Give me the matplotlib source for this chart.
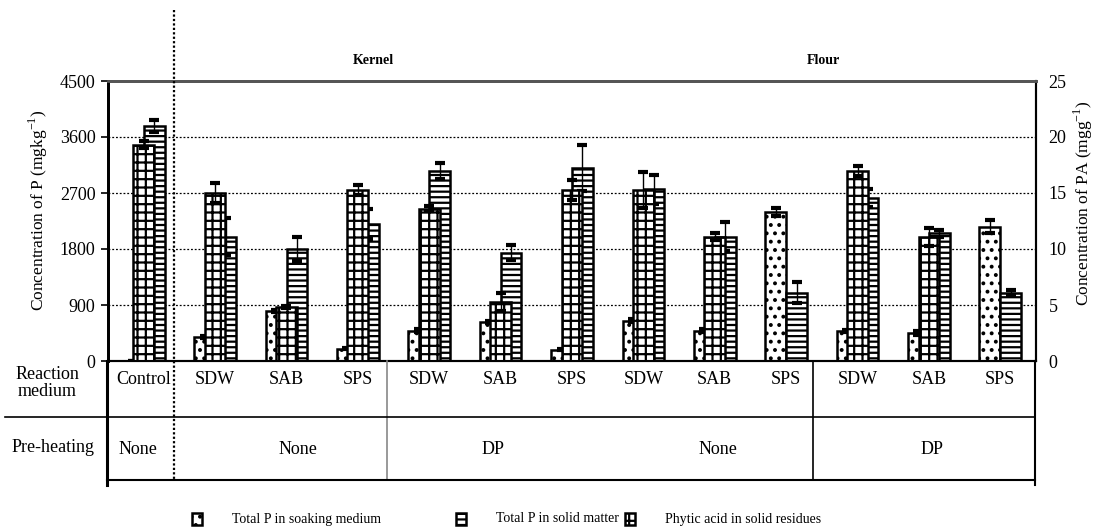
import numpy as np
import matplotlib
matplotlib.use("Agg")
import matplotlib.pyplot as plt
from matplotlib.lines import Line2D
from matplotlib.patches import Rectangle

plt.rcParams['font.family'] = ['Liberation Serif', 'DejaVu Serif']
plt.rcParams['mathtext.fontset'] = 'custom'
plt.rcParams['mathtext.rm'] = 'Liberation Serif'
plt.rcParams['hatch.linewidth'] = 1.6

# treatments, left to right
media = ['Control', 'SDW', 'SAB', 'SPS', 'SDW', 'SAB', 'SPS',
         'SDW', 'SAB', 'SPS', 'SDW', 'SAB', 'SPS']
preheat = ['None', 'None', 'DP', 'None', 'DP']
preheat_px = [138, 298, 493, 718, 932]

# total P in soaking medium (mg/kg)
soak_p = [0, 385, 800, 200, 490, 630, 180, 650, 490, 2400, 480, 450, 2160]
soak_err = [0, 20, 20, 10, 20, 20, 10, 30, 20, 65, 20, 30, 100]
# total P in solid matter (mg/kg)
solid_p = [3780, 2000, 1800, 2200, 3050, 1740, 3100, 2760, 2000, 1100, 2620, 2050, 1100]
solid_err = [100, 300, 200, 240, 130, 120, 370, 230, 240, 170, 140, 50, 40]
# phytic acid in solid residues (mg/g)
phytic = [19.3, 15.0, 4.8, 15.3, 13.6, 5.3, 15.3, 15.3, 11.1, 0, 17.0, 11.1, 0]
phytic_err = [0.3, 0.9, 0.1, 0.45, 0.2, 0.8, 0.9, 1.6, 0.3, 0, 0.45, 0.8, 0]

W, H = 1100, 530
fig = plt.figure(figsize=(11, 5.3), dpi=100)


def fx(x):
    return x / W


def fy(y):
    return 1 - y / H


L, R, T, B = 108, 1036, 81, 361
ax = fig.add_axes([fx(L), fy(B), fx(R - L), (B - T) / H])
ax2 = ax.twinx()

x = np.arange(len(media))
bw = 0.29
off = 0.147
bar_kw = dict(width=bw, facecolor='white', edgecolor='black', linewidth=1.8)
err_kw = dict(fmt='none', ecolor='black', elinewidth=1, capsize=3.5, capthick=3, zorder=5)

ax.bar(x - off, soak_p, hatch='..', zorder=2, **bar_kw)
ax.bar(x + off, solid_p, hatch='---', zorder=2, **bar_kw)
ax.errorbar(x - off, soak_p, yerr=soak_err, **err_kw)
ax.errorbar(x + off, solid_p, yerr=solid_err, **err_kw)

ph = np.array(phytic)
shown = ph > 0
ax2.bar(x[shown], ph[shown], hatch='++', zorder=2, **bar_kw)
ax2.errorbar(x[shown], ph[shown], yerr=np.array(phytic_err)[shown], **err_kw)

ax.set_xlim(-0.5, len(media) - 0.5)
ax.set_ylim(0, 4500)
ax2.set_ylim(0, 25)
ax.set_yticks(np.arange(0, 4501, 900))
ax2.set_yticks(np.arange(0, 26, 5))
ax.set_xticks([])
ax.set_axisbelow(True)
ax.grid(axis='y', linestyle=(0, (1.5, 1.5)), color='black', linewidth=0.9)

ax.tick_params(axis='y', labelsize=13, length=5, width=1.2, direction='out', pad=4)
ax2.tick_params(axis='y', labelsize=13, length=0, pad=9)

for a in (ax, ax2):
    a.spines['top'].set_color('#555555')
    a.spines['top'].set_linewidth(2)
    a.spines['left'].set_linewidth(2)
    a.spines['right'].set_linewidth(1.5)
    a.spines['bottom'].set_linewidth(1.5)

ax.set_ylabel('Concentration of P (mgkg$^{-1}$)', fontsize=12.5)
ax.yaxis.set_label_coords(-0.063, 0.54)
ax2.set_ylabel('Concentration of PA (mgg$^{-1}$)', fontsize=12.5, rotation=90)
ax2.yaxis.set_label_coords(1.039, 0.564)

# frame of the treatment table under the bars
def fline(xs, ys, **kw):
    fig.add_artist(Line2D([fx(v) for v in xs], [fy(v) for v in ys], **kw))

fline([174, 174], [10, 480], color='black', lw=1.6, linestyle=(0, (1, 1)))
fline([387, 387], [B, 480], color='#888888', lw=1.2)
fline([813, 813], [B, 480], color='black', lw=1.2)
fline([1035, 1035], [B, 485], color='black', lw=1.5)
fline([107, 107], [B, 485], color='black', lw=2.2)
fline([5, 1035], [417, 417], color='black', lw=1.2)
fline([107, 1035], [480, 480], color='black', lw=1.5)

for i, m in enumerate(media):
    xp = L + (R - L) * (i + 0.5) / len(media)
    fig.text(fx(xp), fy(380), m, ha='center', va='center', fontsize=13)
for s, xp in zip(preheat, preheat_px):
    fig.text(fx(xp), fy(450), s, ha='center', va='center', fontsize=13)
fig.text(fx(47), fy(383), 'Reaction\nmedium', ha='center', va='center',
         fontsize=13, linespacing=1.05)
fig.text(fx(53), fy(448), 'Pre-heating', ha='center', va='center', fontsize=13)

fig.text(fx(373), fy(60), 'Kernel', ha='center', va='center', fontsize=10, fontweight='bold')
fig.text(fx(823), fy(60), 'Flour', ha='center', va='center', fontsize=10, fontweight='bold')

# legend along the bottom
legend_items = [('..', 'Total P in soaking medium', 197, 232),
                ('---', 'Total P in solid matter', 461, 496),
                ('++', 'Phytic acid in solid residues', 630, 665)]
for hatch, label, ix, tx in legend_items:
    fig.add_artist(Rectangle((fx(ix - 5), fy(525)), fx(10), 12 / H,
                             facecolor='white', edgecolor='black', lw=1.8,
                             hatch=hatch, transform=fig.transFigure))
    fig.text(fx(tx), fy(519), label, ha='left', va='center', fontsize=10)

fig.savefig('out.png', dpi=100)
